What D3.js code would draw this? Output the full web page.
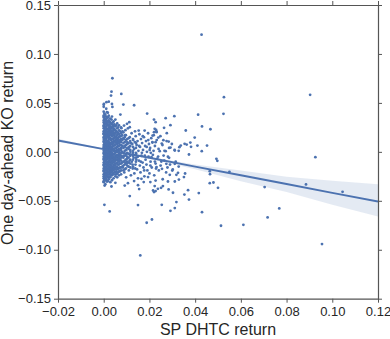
<!DOCTYPE html>
<html>
<head>
<meta charset="utf-8">
<script src="https://cdn.jsdelivr.net/npm/d3@7"></script>
<style>
  body { margin: 0; background: #fff; }
  svg { display: block; font-family: "Liberation Sans", Arial, sans-serif; }
</style>
</head>
<body>
<svg id="chart" width="390" height="339"></svg>
<script>
// Tick labels
const xTicks = [-0.02, 0.00, 0.02, 0.04, 0.06, 0.08, 0.10, 0.12];
const yTicks = [-0.15, -0.10, -0.05, 0.00, 0.05, 0.10, 0.15];

// Dense core near x = 0: each column is [x, list of y]
const coreColumns = [
  [0.0000, [.046,.041,.037,.035,.032,.030,.027,.026,.024,.021,.019,.018,.015,.013,.011,.010,.007,.005,.004,.001,-.001,-.002,-.005,-.007,-.008,-.011,-.013,-.014,-.017,-.019,-.020,-.023,-.025,-.027,-.030,-.031]],
  [0.0003, [.039,.033,.029,.025,.022,.020,.016,.012,.008,.006,.002,-.003,-.006,-.010,-.012,-.015,-.018,-.022,-.026,-.028]],
  [0.0007, [.038,.034,.031,.028,.025,.022,.020,.017,.014,.012,.009,.006,.003,.000,-.002,-.004,-.006,-.009,-.012,-.015,-.016,-.018,-.021,-.024,-.026,-.029,-.033]],
  [0.0011, [.044,.036,.033,.029,.026,.024,.021,.018,.016,.013,.010,.008,.005,.002,-.001,-.003,-.006,-.008,-.010,-.013,-.016,-.019,-.022,-.024,-.028]],
  [0.0014, [.035,.030,.027,.023,.019,.015,.011,.007,.003,.000,-.004,-.007,-.011,-.014,-.018,-.021,-.025]],
  [0.0018, [.040,.035,.031,.028,.023,.020,.017,.015,.011,.009,.006,.004,.001,-.002,-.005,-.007,-.010,-.012,-.014,-.017,-.020,-.023,-.026,-.030]],
  [0.0022, [.037,.032,.027,.025,.022,.019,.016,.013,.010,.007,.004,.002,-.001,-.004,-.006,-.009,-.011,-.015,-.018,-.021,-.025,-.028]],
  [0.0025, [.031,.028,.024,.021,.017,.014,.009,.005,.001,-.002,-.007,-.010,-.013,-.017,-.020,-.023]],
  [0.0029, [.034,.030,.026,.023,.020,.018,.014,.012,.009,.006,.003,.000,-.003,-.005,-.008,-.011,-.013,-.016,-.019,-.022,-.026,-.031]],
  [0.0032, [.029,.024,.021,.017,.012,.008,.004,.001,-.002,-.006,-.010,-.014,-.018,-.021,-.024]],
  [0.0036, [.036,.028,.025,.021,.019,.016,.013,.010,.008,.005,.002,-.001,-.004,-.007,-.009,-.012,-.015,-.017,-.020,-.024,-.029]],
  [0.0040, [.030,.026,.022,.018,.013,.009,.006,.003,-.003,-.006,-.011,-.015,-.018,-.022]],
  [0.0043, [.031,.027,.024,.020,.017,.014,.011,.009,.006,.003,.001,-.002,-.005,-.008,-.010,-.013,-.016,-.019,-.023,-.027]],
  [0.0047, [.028,.023,.018,.015,.011,.007,.002,-.002,-.007,-.010,-.014,-.017,-.021]],
  [0.0051, [.033,.026,.022,.019,.015,.012,.010,.007,.004,.001,-.001,-.004,-.006,-.009,-.012,-.014,-.018,-.021,-.025]],
  [0.0055, [.027,.021,.016,.013,.009,.004,.000,-.004,-.008,-.012,-.016,-.020,-.023]],
  [0.0059, [.029,.024,.020,.017,.014,.011,.008,.005,.002,.000,-.003,-.006,-.008,-.011,-.015,-.018,-.022,-.026]],
  [0.0063, [.025,.019,.013,.010,.006,.001,-.004,-.009,-.013,-.017,-.021]],
  [0.0067, [.027,.022,.018,.015,.012,.009,.006,.003,.001,-.002,-.005,-.007,-.010,-.013,-.017,-.020,-.024]],
  [0.0071, [.021,.016,.011,.007,.002,-.003,-.008,-.012,-.016,-.020]],
  [0.0076, [.025,.019,.016,.013,.010,.007,.004,.002,-.001,-.004,-.006,-.009,-.012,-.016,-.019,-.023]],
  [0.0081, [.017,.012,.006,.000,-.005,-.011,-.015]],
  [0.0086, [.020,.014,.009,.004,-.001,-.006,-.010,-.014,-.019]],
  [0.0092, [.015,.010,.005,.001,-.004,-.009,-.013,-.018]],
  [0.0097, [.017,.012,.007,.002,-.003,-.008,-.012,-.017]],
  [0.0103, [.013,.008,.004,-.001,-.005,-.010,-.014]],
  [0.0109, [.014,.009,.003,-.002,-.006,-.011,-.015]],
  [0.0116, [.011,.006,.002,-.004,-.008,-.012,-.016]],
  [0.0128, [.013,.005,.001,-.004,-.008,-.015]],
  [0.0141, [.009,.004,-.001,-.006,-.010]]
];

// Medium-density spread to the right of the core: [x, y]
const spread = [
  [.0082,.021],[.0088,.013],[.0091,.006],[.0094,.017],[.0099,.002],[.0103,.010],[.0106,.024],[.0111,.005],[.0114,.015],[.0117,.000],
  [.0122,.019],[.0125,.008],[.0129,.012],[.0133,.003],[.0137,.021],[.0140,.016],[.0144,.007],[.0148,.011],[.0152,.001],[.0156,.018],
  [.0159,.005],[.0163,.013],[.0168,.009],[.0172,.002],[.0176,.015],[.0181,.006],[.0185,.011],[.0189,.000],[.0194,.019],[.0198,.008],
  [.0203,.004],[.0208,.014],[.0213,.010],[.0218,.001],[.0224,.006],[.0232,.012],[.0240,.003],[.0248,.016],[.0257,.007],[.0266,.001],
  [.0275,.011],[.0286,.004],[.0298,.008],[.0310,.002],
  [.0084,-.016],[.0087,-.004],[.0090,-.021],[.0095,-.011],[.0098,-.026],[.0102,-.007],[.0107,-.015],[.0110,-.019],[.0115,-.003],[.0119,-.024],
  [.0123,-.010],[.0127,-.017],[.0131,-.006],[.0134,-.022],[.0139,-.013],[.0142,-.002],[.0146,-.018],[.0150,-.027],[.0154,-.009],[.0158,-.014],
  [.0161,-.021],[.0165,-.004],[.0170,-.011],[.0174,-.016],[.0178,-.025],[.0183,-.008],[.0187,-.013],[.0191,-.019],[.0196,-.005],[.0200,-.022],
  [.0205,-.010],[.0210,-.016],[.0215,-.003],[.0221,-.024],[.0227,-.012],[.0234,-.007],[.0241,-.019],[.0249,-.014],[.0258,-.028],[.0265,-.009],
  [.0273,-.021],[.0281,-.005],[.0290,-.013],[.0302,-.018],[.0315,-.010],[.0328,-.015],
  [.0119,.009],[.0128,-.001],[.0136,.010],[.0143,-.008],[.0155,.006],[.0167,-.001],[.0171,.016],[.0180,-.004],[.0188,.005],[.0101,-.012],
  [.0113,-.009],[.0126,-.013],[.0138,-.017],[.0149,-.005],[.0162,-.010],[.0177,-.019],[.0195,.012],[.0206,-.001],[.0219,.017],[.0229,-.017]
];

// Individually readable points: [x, y]
const outliers = [
  [.0428,.1197],[.0038,.0752],[.0034,.0615],[.0077,.0592],[.0032,.0575],
  [.0022,.0513],[.0012,.0507],[.0001,.0490],[.0000,.0480],[.0036,.0490],[.0038,.0459],
  [.0086,.0483],[.0133,.0476],[.0014,.0405],[.0073,.0381],[.0190,.0391],
  [.0001,.0364],[.0019,.0354],[.0034,.0330],[.0009,.0320],[.0020,.0303],
  [.0112,.0303],[.0102,.0286],[.0089,.0268],[.0114,.0252],[.0077,.0242],[.0095,.0221],
  [.0227,.0303],[.0179,.0217],[.0153,.0217],[.0223,.0235],[.0231,.0207],
  [.0526,.0558],[.0903,.0582],[.0524,.0388],[.0413,.0380],[.0309,.0364],[.0271,.0344],[.0220,.0330],
  [.0292,.0272],[.0264,.0245],[.0430,.0260],[.0467,.0231],[.0359,.0218],[.0229,.0224],[.0220,.0201],
  [.0231,.0201],[.0276,.0191],[.0214,.0166],[.0239,.0146],[.0398,.0146],
  [.0261,.0119],[.0284,.0105],[.0227,.0099],[.0213,.0095],[.0254,.0085],[.0379,.0095],[.0410,.0064],
  [.0452,.0064],[.0354,.0082],[.0363,.0074],[.0337,.0064],[.0331,.0048],[.0382,.0051],[.0292,.0044],
  [.0201,.0020],[.0245,.0007],[.0271,.0007],[.0311,.0013],[.0328,.0010],[.0429,.0007],[.0373,-.0027],
  [.0262,-.0038],[.0286,-.0061],[.0209,-.0054],[.0238,-.0048],[.0493,-.0071],[.0497,-.0092],[.0926,-.0054],
  [.0224,-.0099],[.0252,-.0099],[.0274,-.0122],[.0311,-.0122],[.0204,-.0140],[.0231,-.0156],[.0255,-.0173],
  [.0279,-.0160],[.0300,-.0191],[.0325,-.0214],[.0356,-.0221],[.0351,-.0258],[.0318,-.0235],[.0289,-.0235],
  [.0464,-.0197],[.0465,-.0228],[.0550,-.0204],[.0464,-.0320],[.0480,-.0313],[.0500,-.0367],[.0704,-.0360],
  [.0885,-.0333],[.1045,-.0408],
  [.0329,-.0283],[.0311,-.0303],[.0281,-.0303],[.0259,-.0350],[.0237,-.0378],[.0227,-.0401],[.0220,-.0411],
  [.0251,-.0367],[.0204,-.0309],[.0227,-.0293],[.0216,-.0395],
  [.0369,-.0391],[.0416,-.0421],[.0353,-.0436],[.0373,-.0487],[.0303,-.0418],[.0318,-.0513],[.0311,-.0574],
  [.0292,-.0602],[.0254,-.0541],[.0430,-.0616],
  [.0155,-.0380],[.0284,-.0384],[.0114,-.0452],[.0003,-.0541],[.0026,-.0609],[.0150,-.0544],
  [.0768,-.0578],[.0717,-.0670],[.0611,-.0745],[.0513,-.0755],[.0955,-.0942],[.0211,-.0691],[.0188,-.0724],[.0160,-.1058],
  [.0004,-.0344],[.0034,-.0354],[.0051,-.0316],[.0014,-.0303],[.0092,-.0344],[.0106,-.0320],[.0133,-.0299],
  [.0150,-.0340],[.0175,-.0309],[.0165,-.0276],[.0194,-.0258],[.0223,-.0350]
];

// Regression fit and its confidence band
const bandX    = [-0.02, 0.00, 0.01, 0.02, 0.04, 0.06, 0.08, 0.10, 0.12];
const fitY     = [0.0117, 0.0028, -0.0017, -0.0061, -0.0151, -0.0240, -0.0329, -0.0419, -0.0508];
const bandHigh = [0.0135, 0.0035, -0.0012, -0.0053, -0.0128, -0.0190, -0.0255, -0.0295, -0.0330];
const bandLow  = [0.0100, 0.0021, -0.0022, -0.0070, -0.0178, -0.0300, -0.0410, -0.0540, -0.0660];

const blue = "#4c72b0";

const svg = d3.select("#chart");
const margin = { top: 5, right: 12, bottom: 40, left: 58 };
const width = 390, height = 339;
const innerW = width - margin.left - margin.right;
const innerH = height - margin.top - margin.bottom - 0.3;

const g = svg.append("g").attr("transform", `translate(${margin.left},${margin.top})`);

const x = d3.scaleLinear().domain([-0.02, 0.12]).range([0, innerW]);
const y = d3.scaleLinear().domain([-0.15, 0.15]).range([innerH, 0]);

const points = [];
coreColumns.forEach(([cx, ys]) => ys.forEach(v => points.push([cx, v])));
spread.forEach(p => points.push(p));
outliers.forEach(p => points.push(p));

g.append("defs").append("clipPath").attr("id", "clip")
  .append("rect").attr("width", innerW).attr("height", innerH);

const plot = g.append("g").attr("clip-path", "url(#clip)");

plot.selectAll("circle")
  .data(points)
  .join("circle")
  .attr("cx", d => x(d[0]))
  .attr("cy", d => y(d[1]))
  .attr("r", 1.4)
  .attr("fill", blue);

const band = bandX.map((v, i) => ({ x: v, lo: bandLow[i], hi: bandHigh[i], m: fitY[i] }));

plot.append("path")
  .datum(band)
  .attr("fill", blue)
  .attr("fill-opacity", 0.15)
  .attr("d", d3.area().x(d => x(d.x)).y0(d => y(d.lo)).y1(d => y(d.hi)));

plot.append("path")
  .datum(band)
  .attr("fill", "none")
  .attr("stroke", blue)
  .attr("stroke-width", 2)
  .attr("d", d3.line().x(d => x(d.x)).y(d => y(d.m)));

// Axes on all four sides, ticks outward
const fmt = d3.format(".2f");
const styleAxis = sel => {
  sel.select(".domain").attr("stroke", "#555").attr("stroke-width", 1.2);
  sel.selectAll(".tick line").attr("stroke", "#555").attr("stroke-width", 1);
  sel.selectAll(".tick text").style("font-size", "13px").attr("fill", "#262626");
};

g.append("g").attr("transform", `translate(0,${innerH})`)
  .call(d3.axisBottom(x).tickValues(xTicks).tickFormat(fmt).tickSize(4).tickPadding(4).tickSizeOuter(0))
  .call(styleAxis);
g.append("g")
  .call(d3.axisTop(x).tickValues(xTicks).tickFormat("").tickSize(4).tickSizeOuter(0))
  .call(styleAxis);
g.append("g")
  .call(d3.axisLeft(y).tickValues(yTicks).tickFormat(fmt).tickSize(4).tickPadding(3).tickSizeOuter(0))
  .call(styleAxis);
g.append("g").attr("transform", `translate(${innerW},0)`)
  .call(d3.axisRight(y).tickValues(yTicks).tickFormat("").tickSize(4).tickSizeOuter(0))
  .call(styleAxis);

// Axis labels
g.append("text")
  .attr("x", innerW / 2)
  .attr("y", innerH + 36)
  .attr("text-anchor", "middle")
  .attr("fill", "#262626")
  .style("font-size", "16px")
  .text("SP DHTC return");

g.append("text")
  .attr("transform", "rotate(-90)")
  .attr("x", -(153 - margin.top))
  .attr("y", -45)
  .attr("text-anchor", "middle")
  .attr("fill", "#262626")
  .style("font-size", "16px")
  .text("One day-ahead KO return");
</script>
</body>
</html>
